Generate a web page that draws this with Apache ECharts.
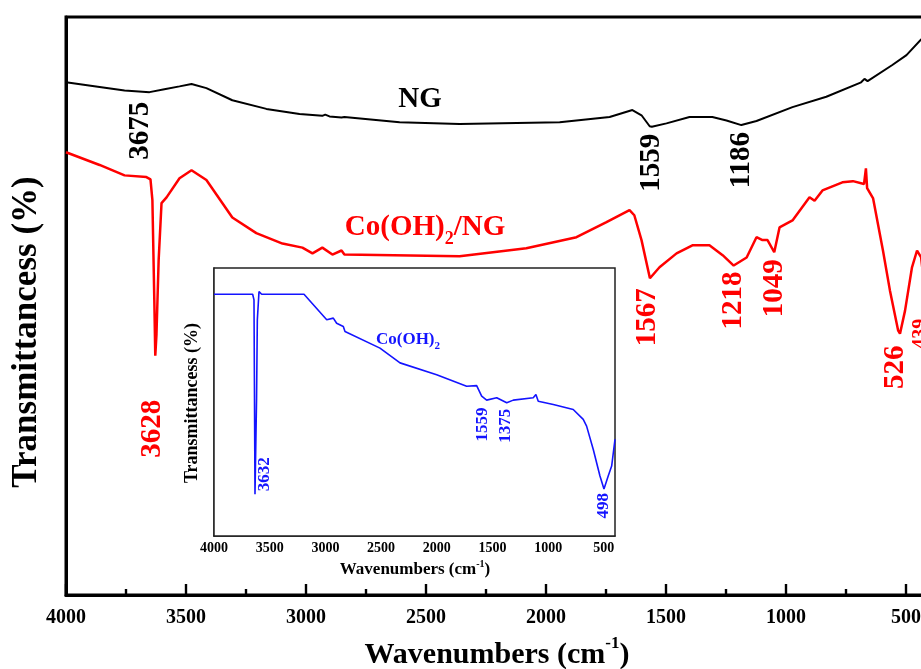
<!DOCTYPE html>
<html><head><meta charset="utf-8">
<script src="https://cdn.jsdelivr.net/npm/echarts@6/dist/echarts.min.js"></script>
<style>html,body{margin:0;padding:0;background:#fff}#c{width:921px;height:669px}</style>
</head><body><div id="c"></div>
<script>
// ---------------- data ----------------
const ngWavenumber = [4000,3860,3756,3652,3590,3527,3477,3415,3307,3165,3027,2932,2920,2902,2852,2840,2610,2360,1943,1735,1640,1602,1568,1559,1498,1402,1307,1248,1186,1123,973,832,687,673,660,557,498,440,400];
const ngTransmittance = [88.7,87.9,87.3,87.0,87.5,88.0,88.4,87.7,85.6,84.1,83.2,82.9,83.1,82.8,82.6,82.7,81.8,81.5,81.8,82.7,83.9,83.0,81.1,81.0,81.6,82.7,82.7,82.1,81.3,82.0,84.4,86.2,88.7,89.3,88.9,91.7,93.4,96.0,97.5];

const cnWavenumber = [4000,3860,3756,3665,3648,3640,3632,3628,3623,3614,3602,3581,3527,3477,3415,3307,3207,3098,3015,2973,2932,2890,2852,2840,2360,2082,1873,1748,1652,1632,1602,1567,1527,1456,1390,1319,1264,1218,1164,1123,1098,1077,1049,1027,973,902,881,848,765,721,675,667,662,637,596,567,533,525,504,475,454,437,420,400];
const cnTransmittance = [76.6,74.4,72.6,72.3,71.9,68.3,51.0,41.4,45.1,57.9,67.8,68.8,72.1,73.5,71.8,65.3,62.6,60.8,60.1,59.1,60.1,58.9,59.6,58.9,58.6,60.0,61.9,64.5,66.6,65.7,61.4,54.8,56.7,59.1,60.5,60.5,58.8,57.0,58.4,61.9,61.4,61.4,59.3,63.6,64.8,68.8,68.2,70.0,71.4,71.6,71.1,73.8,70.4,68.6,59.6,52.7,45.8,45.2,49.2,56.7,59.6,58.4,52.0,50.0];

const coWavenumber = [4000,3653,3641,3632,3618,3611,3596,3572,3192,2988,2929,2899,2839,2824,2510,2330,2001,1732,1642,1597,1552,1462,1372,1313,1134,1110,1089,954,775,685,655,595,535,499,461,430,400];
const coTransmittance = [90.2,90.2,88.1,15.6,50.9,80.7,91.2,90.2,90.2,80.7,81.3,79.4,78.2,76.3,70.1,64.6,60.2,55.9,56.1,52.2,50.7,51.6,49.7,50.7,51.6,52.8,50.3,49.1,47.2,43.5,41.0,32.3,22.4,17.5,22.4,26.1,36.1];

const tickLabels = [4000,3500,3000,2500,2000,1500,1000,500];
const minorTicks = [3750,3250,2750,2250,1750,1250,750];

const ngPeaks = [3675,1559,1186];
const cnPeaks = [3628,1567,1218,1049,526,439];
const coPeaks = [3632,1559,1375,498];

// ---------------- styles ----------------
const FONT = "'Liberation Serif','Times New Roman',serif";
const RED = '#ff0000', BLUE = '#1414ff', BLACK = '#000000';
// pixel offsets of peak labels from the peak point (style only)
const ngLabelOffset = [[-3,39],[0,36],[0,35]];
const cnLabelOffset = [[-3,73],[-2,39],[0,35],[0,36],[-4,34],[0,77]];
const cnLabelSize = [29,29,29,29,29,20];
const coLabelOffset = [[10,-20],[-3,25],[-1,23],[0,17]];

function zip(a,b){return a.map((v,i)=>[v,b[i]]);}
function interp(xs, ys, x){
  for(let i=0;i<xs.length-1;i++){
    const a=xs[i], b=xs[i+1];
    if((x<=a && x>=b)||(x>=a && x<=b)){
      const t = (x-a)/(b-a||1);
      return ys[i]+t*(ys[i+1]-ys[i]);
    }
  }
  return ys[ys.length-1];
}

const chart = echarts.init(document.getElementById('c'), null, {renderer:'canvas'});

function xAxisPair(grid, major, minorLen, width, fs, margin){
  return [
    {gridIndex:grid, type:'value', min:400, max:4000, inverse:true, position:'bottom',
     axisLine:{show:true, onZero:false, lineStyle:{color:BLACK, width:width}},
     axisTick:{show:true, inside:true, length:major, customValues:tickLabels, lineStyle:{color:BLACK, width:width*0.8}},
     axisLabel:{show:true, customValues:tickLabels, formatter:(v)=>String(v), margin:margin, fontSize:fs, fontWeight:'bold', fontFamily:FONT, color:BLACK},
     splitLine:{show:false}},
    {gridIndex:grid, type:'value', min:400, max:4000, inverse:true, position:'bottom',
     axisLine:{show:false, onZero:false},
     axisTick:{show:true, inside:true, length:minorLen, customValues:minorTicks, lineStyle:{color:BLACK, width:width*0.8}},
     axisLabel:{show:false},
     splitLine:{show:false}}
  ];
}

const option = {
  animation:false,
  backgroundColor:'#fff',
  grid:[
    {left:66, top:17, width:864, height:578, show:true, borderColor:BLACK, borderWidth:3, backgroundColor:'transparent', containLabel:false, outerBoundsMode:'none'},
    {left:214, top:268, width:401, height:268, show:true, borderColor:'#222', borderWidth:1.5, backgroundColor:'#fff', z:5, containLabel:false, outerBoundsMode:'none'}
  ],
  xAxis:[].concat(xAxisPair(0, 11, 6, 3, 20, 13), xAxisPair(1, 4, 2.5, 1.5, 14, 5)),
  yAxis:[
    {gridIndex:0, type:'value', min:0, max:100, axisLine:{show:true, onZero:false, lineStyle:{color:BLACK,width:3}}, axisTick:{show:false}, axisLabel:{show:false}, splitLine:{show:false}},
    {gridIndex:1, type:'value', min:0, max:100, axisLine:{show:true, onZero:false, lineStyle:{color:'#222',width:1.5}}, axisTick:{show:false}, axisLabel:{show:false}, splitLine:{show:false}}
  ],
  series:[
    {name:'NG', type:'line', xAxisIndex:0, yAxisIndex:0, data:zip(ngWavenumber, ngTransmittance), showSymbol:false, symbol:'none', lineStyle:{color:BLACK, width:2}, z:3},
    {name:'Co(OH)2/NG', type:'line', xAxisIndex:0, yAxisIndex:0, data:zip(cnWavenumber, cnTransmittance), showSymbol:false, symbol:'none', lineStyle:{color:RED, width:2.5}, z:3},
    {name:'Co(OH)2', type:'line', xAxisIndex:2, yAxisIndex:1, data:zip(coWavenumber, coTransmittance), showSymbol:false, symbol:'none', lineStyle:{color:BLUE, width:1.6}, z:10}
  ]
};
chart.setOption(option);

// ---------------- text annotations ----------------
const g = [];
const mctx = document.createElement('canvas').getContext('2d');
function fontOf(size){return 'bold '+size+'px '+FONT;}
function measure(t, size){mctx.font = fontOf(size); return mctx.measureText(t).width;}
function txt(x, y, text, size, color, rot){
  g.push({type:'text', x:x, y:y, rotation:rot||0, z:100, silent:true,
    style:{text:text, fill:color, font:fontOf(size), align:'center', verticalAlign:'middle'}});
}
// parts: [text, fontSize, dy]
function composite(cx, cy, parts, color){
  const ws = parts.map(p=>measure(p[0], p[1]));
  const total = ws.reduce((a,b)=>a+b, 0);
  let x = cx - total/2;
  parts.forEach((p,i)=>{
    g.push({type:'text', x:x, y:cy+p[2], z:100, silent:true,
      style:{text:p[0], fill:color, font:fontOf(p[1]), align:'left', verticalAlign:'middle'}});
    x += ws[i];
  });
}

// axis titles
composite(497, 655, [['Wavenumbers (cm',30,0],['-1',17,-11],[')',30,0]], BLACK);
txt(27, 332, 'Transmittancess (%)', 35, BLACK, Math.PI/2);
composite(415, 570, [['Wavenumbers (cm',17,0],['-1',10,-6],[')',17,0]], BLACK);
txt(192, 403, 'Transmittancess (%)', 18, BLACK, Math.PI/2);
// series names
txt(420, 100, 'NG', 29, BLACK, 0);
composite(425, 228, [['Co(OH)',29,0],['2',18,11],['/NG',29,0]], RED);
composite(408, 340, [['Co(OH)',17,0],['2',11,6]], BLUE);

function peakLabels(peaks, xs, ys, gridIndex, offsets, sizes, color){
  peaks.forEach((p,i)=>{
    const v = interp(xs, ys, p);
    const pt = chart.convertToPixel({gridIndex:gridIndex}, [p, v]);
    const sz = Array.isArray(sizes) ? sizes[i] : sizes;
    txt(pt[0]+offsets[i][0], pt[1]+offsets[i][1], String(p), sz, color, Math.PI/2);
  });
}
peakLabels(ngPeaks, ngWavenumber, ngTransmittance, 0, ngLabelOffset, 29, BLACK);
peakLabels(cnPeaks, cnWavenumber, cnTransmittance, 0, cnLabelOffset, cnLabelSize, RED);
peakLabels(coPeaks, coWavenumber, coTransmittance, 1, coLabelOffset, 17, BLUE);

chart.setOption({graphic:{elements:g}});
</script>
</body></html>
